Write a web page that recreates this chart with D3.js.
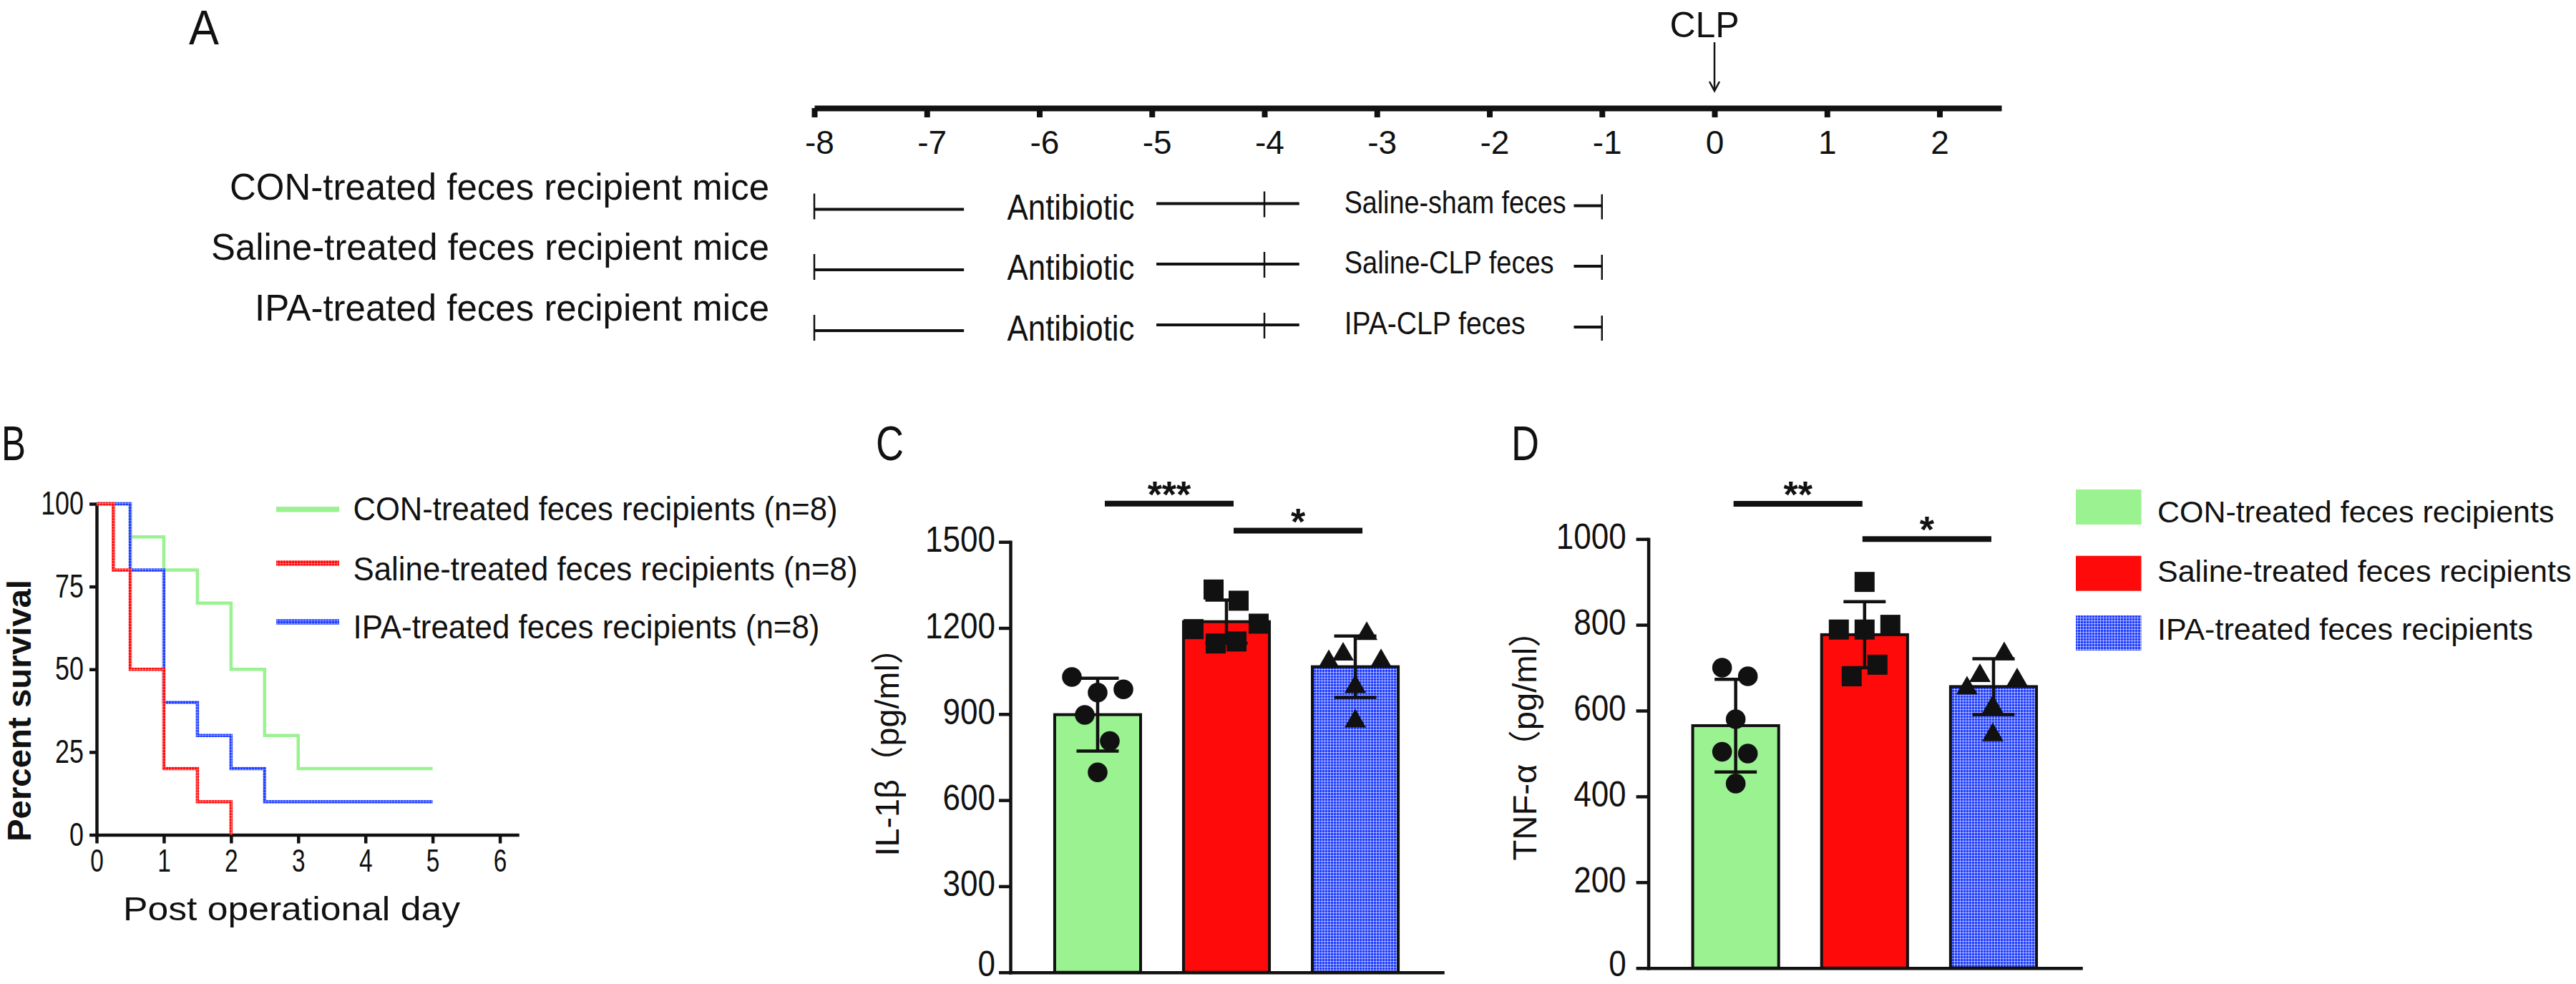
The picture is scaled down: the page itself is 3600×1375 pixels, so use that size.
<!DOCTYPE html>
<html><head><meta charset="utf-8">
<script src="https://cdn.jsdelivr.net/npm/d3@7"></script>
<style>
body{margin:0;background:#fff}
svg text{font-family:"Liberation Sans",Arial,"Noto Sans CJK SC",sans-serif}
</style>
</head><body>
<svg id="chart" width="3600" height="1375"></svg>
<script>
// ---------------- DATA ----------------
// Panel A timeline
const timelineTicks = [-8,-7,-6,-5,-4,-3,-2,-1,0,1,2];
const timelineExtent = [-8, 2.55];
const clpDay = 0;
const groupLabelsA = ["CON-treated feces recipient mice","Saline-treated feces recipient mice","IPA-treated feces recipient mice"];
const antibioticStartEnd = [-8, -4];
const fecesStartEnd = [-4, -1];
const fecesLabels = ["Saline-sham feces","Saline-CLP feces","IPA-CLP feces"];

// Panel B survival
const survivalLabels = ["CON-treated feces recipients (n=8)","Saline-treated feces recipients (n=8)","IPA-treated feces recipients (n=8)"];
const survivalCON = [[0,100],[0.5,90],[1,80],[1.5,70],[2,50],[2.5,30],[3,20],[5,20]];
const survivalSaline = [[0,100],[0.25,80],[0.5,50],[1,20],[1.5,10],[2,0]];
const survivalIPA = [[0,100],[0.5,80],[1,40],[1.5,30],[2,20],[2.5,10],[5,10]];
const survivalXTicks = [0,1,2,3,4,5,6];
const survivalYTicks = [0,25,50,75,100];

// Panels C, D
const groups = ["CON","Saline","IPA"];
const legendLabels = ["CON-treated feces recipients","Saline-treated feces recipients","IPA-treated feces recipients"];

const il1bMean = [898, 1222, 1065];
const il1bSD = [127, 75, 107];
const il1bCON = [1029, 975, 986, 897, 806, 697];
const il1bSaline = [1334, 1295, 1196, 1215, 1146, 1153];
const il1bIPA = [1180, 1108, 1082, 1085, 995, 875];
const il1bTicks = [0,300,600,900,1200,1500];
const il1bSig = [{a:0,b:1,label:"***",y:1633},{a:1,b:2,label:"*",y:1539}];

const tnfMean = [565, 777, 656];
const tnfSD = [108, 77, 65];
const tnfCON = [700, 680, 580, 504, 500, 430];
const tnfSaline = [900, 789, 789, 800, 707, 680];
const tnfIPA = [732, 681, 652, 671, 608, 543];
const tnfTicks = [0,200,400,600,800,1000];
const tnfSig = [{a:0,b:1,label:"**",y:1082},{a:1,b:2,label:"*",y:1000}];

// horizontal scatter offsets of the dots (layout, px)
const jitterC = [[-36,0,36,-18,17,0],[-18,17,-46,45,-15,14],[16,-17,-37,36,0,0]];
const jitterD = [[-19,17,0,-19,17,0],[0,-36,0,36,18,-18],[15,-19,-37,33,-1,-1]];

// ---------------- SETUP ----------------
const INK = "#111";
const GREEN = "#9af291", RED = "#ff0a0a", BLUE = "#1f3dff";
const svg = d3.select("#chart");
const defs = svg.append("defs");
function gridPattern(id, base, op){
  const p = defs.append("pattern").attr("id", id).attr("patternUnits","userSpaceOnUse").attr("width",4).attr("height",4);
  p.append("rect").attr("width",4).attr("height",4).attr("fill",base);
  p.append("rect").attr("x",3).attr("width",1).attr("height",4).attr("fill","#fff").attr("opacity",op);
  p.append("rect").attr("y",3).attr("width",4).attr("height",1).attr("fill","#fff").attr("opacity",op);
}
gridPattern("blueGrid", BLUE, 0.55);
gridPattern("redGrid", RED, 0.35);
gridPattern("blueLine", BLUE, 0.35);
const fills = [GREEN, RED, "url(#blueGrid)"];

function label(parent, o){
  const t = parent.append("text").text(o.text)
    .attr("x", o.x).attr("y", o.y)
    .attr("font-size", o.size)
    .attr("font-weight", o.weight || "normal")
    .attr("text-anchor", o.anchor || "start")
    .attr("fill", INK);
  if (o.rotate) t.attr("transform", `rotate(${o.rotate},${o.x},${o.y})`);
  if (o.width) t.attr("textLength", o.width).attr("lengthAdjust","spacingAndGlyphs");
  else if (o.ratio) { const L = t.node().getComputedTextLength(); t.attr("textLength", L*o.ratio).attr("lengthAdjust","spacingAndGlyphs"); }
  return t;
}
function styleAxis(g, sw, fs, ratio, dy){
  g.attr("font-family", null).attr("font-size", null);
  g.select(".domain").attr("stroke", INK).attr("stroke-width", sw).attr("stroke-linecap","square");
  g.selectAll(".tick line").attr("stroke", INK).attr("stroke-width", sw);
  const tt = g.selectAll(".tick text").attr("font-size", fs).attr("fill", INK);
  if (dy) tt.attr("dy", dy);
  tt.each(function(){
    if (ratio && ratio !== 1){
      const L = this.getComputedTextLength();
      d3.select(this).attr("textLength", L*ratio).attr("lengthAdjust","spacingAndGlyphs");
    }
  });
}

// panel letters
label(svg, {text:"A", x:264, y:62, size:68, width:42});
label(svg, {text:"B", x:2, y:643, size:68, width:34});
label(svg, {text:"C", x:1224, y:643, size:68, width:39});
label(svg, {text:"D", x:2112, y:643, size:68, width:39});

// ---------------- PANEL A ----------------
const tx = d3.scaleLinear().domain(timelineExtent).range([1138, 2797]);
const gA = svg.append("g");
const axA = gA.append("g").attr("transform","translate(0,151)")
  .call(d3.axisBottom(tx).tickValues(timelineTicks).tickSize(13).tickSizeOuter(0).tickPadding(18).tickFormat(d => String(d)));
styleAxis(axA, 8, 46, 1);
axA.select(".domain").attr("stroke-linecap","butt");
axA.selectAll(".tick text").attr("dx", d => d < 0 ? 7 : 0);

label(gA, {text:"CLP", x:tx(clpDay)-14, y:52, size:50, anchor:"middle"});
gA.append("line").attr("x1",tx(clpDay)).attr("x2",tx(clpDay)).attr("y1",59).attr("y2",126).attr("stroke",INK).attr("stroke-width",2.5);
gA.append("path").attr("d",`M${tx(clpDay)-7},114 L${tx(clpDay)},127 L${tx(clpDay)+7},114`).attr("fill","none").attr("stroke",INK).attr("stroke-width",2.5);

const rowC = [288.5, 373, 458];
const groupLabelW = [754, 780, 719];
const fecesW = [310, 293, 253];
rowC.forEach((c, i) => {
  const g = gA.append("g");
  label(g, {text:groupLabelsA[i], x:1075, y:c-10, size:52, anchor:"end", width:groupLabelW[i]});
  const seg = (d0, d1, y) => g.append("line").attr("x1",tx(d0)).attr("x2",tx(d1)).attr("y1",y).attr("y2",y).attr("stroke",INK).attr("stroke-width",4);
  const tick = (d, y0, y1) => g.append("line").attr("x1",tx(d)).attr("x2",tx(d)).attr("y1",y0).attr("y2",y1).attr("stroke",INK).attr("stroke-width",2.5);
  tick(antibioticStartEnd[0], c-18, c+18);
  seg(antibioticStartEnd[0], -6.67, c+4);
  label(g, {text:"Antibiotic", x:tx(-5.72), y:c+18, size:50, anchor:"middle", width:178});
  seg(-4.96, -3.69, c-4);
  tick(antibioticStartEnd[1], c-21, c+15);
  label(g, {text:fecesLabels[i], x:tx(-3.29), y:c+9, size:45, width:fecesW[i]});
  seg(-1.25, fecesStartEnd[1], c-1);
  tick(fecesStartEnd[1], c-17, c+18);
});

// ---------------- PANEL B ----------------
const sx = d3.scaleLinear().domain([0, 6.26]).range([135, 723]);
const sy = d3.scaleLinear().domain([0, 100]).range([1166.5, 704]);
const gB = svg.append("g");
const xAxB = gB.append("g").attr("transform","translate(0,1166.5)")
  .call(d3.axisBottom(sx).tickValues(survivalXTicks).tickSize(12).tickSizeOuter(0).tickPadding(8).tickFormat(d3.format("d")));
styleAxis(xAxB, 4.5, 44, 0.76);
const yAxB = gB.append("g").attr("transform","translate(135,0)")
  .call(d3.axisLeft(sy).tickValues(survivalYTicks).tickSize(10).tickSizeOuter(0).tickPadding(8).tickFormat(d3.format("d")));
styleAxis(yAxB, 4.5, 46, 0.78);

const line = d3.line().x(d => sx(d[0])).y(d => sy(d[1])).curve(d3.curveStepAfter);
const survStyles = [
  {data: survivalCON, color: GREEN},
  {data: survivalIPA, color: "url(#blueLine)"},
  {data: survivalSaline, color: "url(#redGrid)"}
];
survStyles.forEach(s => gB.append("path").attr("d", line(s.data)).attr("fill","none").attr("stroke", s.color).attr("stroke-width",4.5));

const legB = [{c:GREEN, y:711.7, ty:727, w:677},{c:"url(#redGrid)", y:786.7, ty:811, w:705},{c:"url(#blueLine)", y:869, ty:892, w:652}];
legB.forEach((l, i) => {
  gB.append("line").attr("x1",386).attr("x2",474).attr("y1",l.y).attr("y2",l.y).attr("stroke",l.c).attr("stroke-width",7.5);
  label(gB, {text:survivalLabels[i], x:493.5, y:l.ty, size:46, width:l.w});
});
label(gB, {text:"Percent survival", x:43, y:993, size:47, weight:"bold", anchor:"middle", rotate:-90, width:366});
label(gB, {text:"Post operational day", x:407.5, y:1286, size:47, anchor:"middle", width:471});

// ---------------- BAR PANELS ----------------
const shapes = [d3.symbolCircle, d3.symbolSquare, d3.symbolTriangle];
const shapeSize = [Math.PI*13.8*13.8, 28*28, 390];

function barPanel(o){
  const g = svg.append("g");
  const x = d3.scaleBand().domain(groups).range([o.x0, o.x1]).paddingInner(0.333).paddingOuter(0.344);
  const y = d3.scaleLinear().domain([0, o.ticks[o.ticks.length-1]]).range([o.y0, o.yTop]);
  const bw = x.bandwidth();
  const cxp = gi => x(groups[gi]) + bw/2;

  // bars
  g.selectAll("rect.bar").data(o.mean).join("rect").attr("class","bar")
    .attr("x", (d,i) => x(groups[i])).attr("width", bw)
    .attr("y", d => y(d)).attr("height", d => y(0) - y(d))
    .attr("fill", (d,i) => fills[i]).attr("stroke", INK).attr("stroke-width", 4);
  // error bars
  o.mean.forEach((m, i) => {
    const lo = m - o.sd[i], hi = m + o.sd[i], c = cxp(i);
    g.append("line").attr("x1",c).attr("x2",c).attr("y1",y(lo)).attr("y2",y(hi)).attr("stroke",INK).attr("stroke-width",4.5);
    [lo, hi].forEach(v => g.append("line").attr("x1",c-29.5).attr("x2",c+29.5).attr("y1",y(v)).attr("y2",y(v)).attr("stroke",INK).attr("stroke-width",4.5));
  });
  // points
  o.points.forEach((arr, gi) => {
    g.selectAll(null).data(arr).join("path")
      .attr("d", d3.symbol().type(shapes[gi]).size(shapeSize[gi]))
      .attr("transform", (d, k) => `translate(${cxp(gi) + o.jitter[gi][k]},${y(d)})`)
      .attr("fill", INK);
  });
  // axes
  const yAx = g.append("g").attr("transform",`translate(${o.x0},0)`)
    .call(d3.axisLeft(y).tickValues(o.ticks).tickSize(o.tickLen).tickSizeOuter(0).tickPadding(o.pad).tickFormat(d3.format("d")));
  styleAxis(yAx, 4.5, 50, 0.88, "0.27em");
  // keep the bottom "0" label inside the page
  const zeroDy = Math.min(0.27, (1363 - o.y0) / 50);
  yAx.selectAll(".tick text").filter(d => d === 0).attr("dy", zeroDy + "em");
  const xAx = g.append("g").attr("transform",`translate(0,${o.y0})`)
    .call(d3.axisBottom(x).tickSize(0).tickSizeOuter(0).tickFormat(""));
  styleAxis(xAx, 4.5, 10, 1);
  // y title
  label(g, {text:o.title, x:o.titleX, y:o.titleY, size:46, anchor:"middle", rotate:-90, width:o.titleW});
  // significance
  o.sig.forEach(s => {
    const x1 = cxp(s.a) + o.sigDx, x2 = cxp(s.b) + o.sigDx, yy = y(s.y);
    g.append("line").attr("x1",x1).attr("x2",x2).attr("y1",yy).attr("y2",yy).attr("stroke",INK).attr("stroke-width",8);
    label(g, {text:s.label, x:(x1+x2)/2, y:yy+5, size:52, weight:"bold", anchor:"middle"});
  });
}

barPanel({x0:1412, x1:2016, y0:1358.7, yTop:757.2, ticks:il1bTicks, mean:il1bMean, sd:il1bSD,
  points:[il1bCON, il1bSaline, il1bIPA], jitter:jitterC, tickLen:16, pad:5,
  title:"IL-1β（pg/ml）", titleX:1256, titleY:1039, titleW:315, sig:il1bSig, sigDx:10});
barPanel({x0:2303.6, x1:2908, y0:1352.7, yTop:753.2, ticks:tnfTicks, mean:tnfMean, sd:tnfSD,
  points:[tnfCON, tnfSaline, tnfIPA], jitter:jitterD, tickLen:17, pad:14,
  title:"TNF-α（pg/ml）", titleX:2147, titleY:1030, titleW:345, sig:tnfSig, sigDx:-3});

// ---------------- LEGEND (C/D) ----------------
const gL = svg.append("g");
const legY = [684, 776.7, 860];
const legTY = [730, 813, 894];
legendLabels.forEach((t, i) => {
  gL.append("rect").attr("x",2901).attr("y",legY[i]).attr("width",91.5).attr("height",49).attr("fill",fills[i]);
  label(gL, {text:t, x:3015, y:legTY[i], size:43});
});
</script>
</body></html>
